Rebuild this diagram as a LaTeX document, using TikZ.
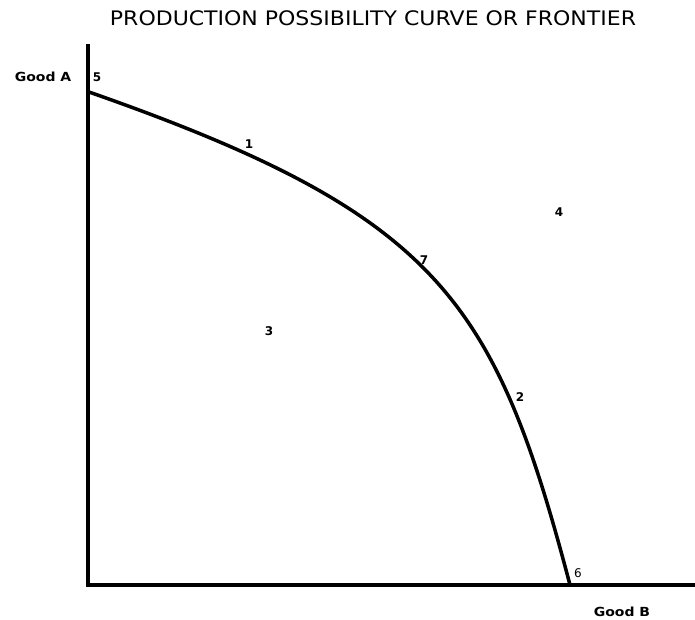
\documentclass[tikz,border=0pt]{standalone}
\usepackage{fontspec}
\setmainfont{DejaVu Sans}
\begin{document}
\begin{tikzpicture}[x=1pt,y=-1pt,
  axis/.style={line width=4pt},
  ppc/.style={line width=3.5pt},
  lbl/.style={font=\fontsize{12}{14}\selectfont\bfseries, inner sep=0pt},
  axl/.style={font=\fontsize{12.5}{14}\selectfont\bfseries, inner sep=0pt, xscale=1.12},
  ttl/.style={font=\fontsize{20}{24}\selectfont, inner sep=0pt, xscale=1.1}]
\useasboundingbox (0,0) rectangle (695,620);
\fill[white] (0,0) rectangle (695,620);
\coordinate (top) at (88,44);
\coordinate (origin) at (88,585);
\coordinate (right) at (695,585);
\draw[axis] (top) -- (origin) -- (right);
\coordinate (start) at (89,92);
\coordinate (end) at (570,585);
\draw[ppc, line cap=round] (start) .. controls (439,214.5) and (495,300) .. (end);
\node[ttl] (title) at (373,18) {PRODUCTION POSSIBILITY CURVE OR FRONTIER};
\node[axl] (gA) at (43,77) {Good A};
\node[axl] (gB) at (622,612) {Good B};
\node[lbl] (p5) at (97,77) {5};
\node[lbl] (p1) at (249,144) {1};
\node[lbl] (p7) at (424,260) {7};
\node[lbl] (p4) at (559,212) {4};
\node[lbl] (p3) at (269,331) {3};
\node[lbl] (p2) at (520,397) {2};
\node[font=\fontsize{12}{14}\selectfont, inner sep=0pt] (p6) at (578,573) {6};
\end{tikzpicture}
\end{document}
